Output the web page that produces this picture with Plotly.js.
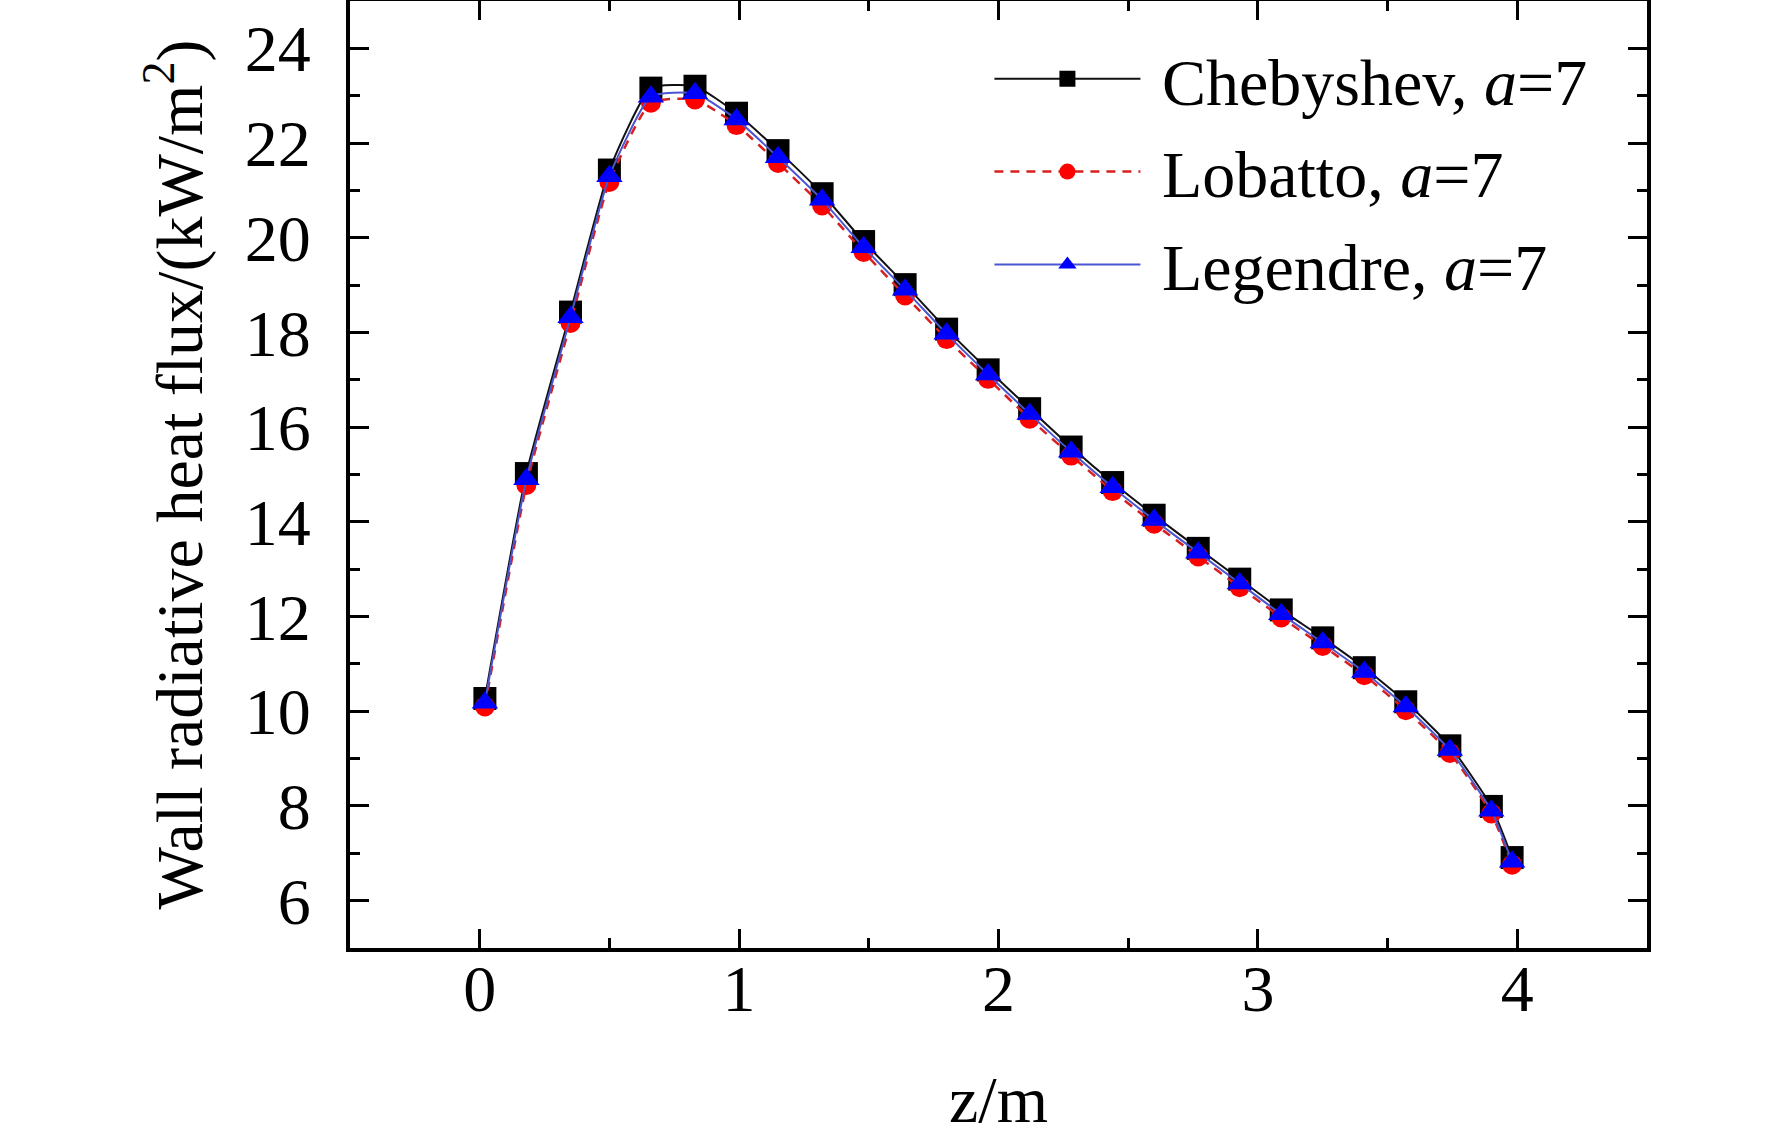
<!DOCTYPE html>
<html>
<head>
<meta charset="utf-8">
<script src="https://cdn.plot.ly/plotly-3.0.1.min.js"></script>
<style>
  html, body { margin: 0; padding: 0; background: #fff; }
  #chart { width: 1772px; height: 1136px; }
</style>
</head>
<body>
<div id="chart"></div>
<script>
// axial position z (m)
const z = [0.02, 0.18, 0.35, 0.50, 0.66, 0.83, 0.99, 1.15, 1.32, 1.48, 1.64, 1.80, 1.96,
           2.12, 2.28, 2.44, 2.60, 2.77, 2.93, 3.09, 3.25, 3.41, 3.57, 3.74, 3.90, 3.98]

// wall radiative heat flux (kW/m2)
const chebyshev = [10.27, 15.02, 18.43, 21.43, 23.16, 23.20, 22.63, 21.84, 20.93, 19.92, 19.01, 18.07, 17.21,
                   16.39, 15.58, 14.83, 14.14, 13.44, 12.79, 12.14, 11.55, 10.92, 10.20, 9.27, 7.99, 6.91]
const lobatto   = [10.10, 14.78, 18.20, 21.18, 22.85, 22.92, 22.38, 21.58, 20.68, 19.70, 18.78, 17.86, 17.02,
                   16.18, 15.40, 14.65, 13.96, 13.27, 12.62, 11.98, 11.38, 10.76, 10.02, 9.12, 7.84, 6.76]
const legendre  = [10.18, 14.90, 18.32, 21.30, 22.98, 23.05, 22.50, 21.70, 20.80, 19.80, 18.90, 17.97, 17.11,
                   16.28, 15.48, 14.73, 14.04, 13.35, 12.70, 12.05, 11.45, 10.83, 10.10, 9.18, 7.90, 6.82]

const seriesNames = ['Chebyshev, <i>a</i>=7', 'Lobatto, <i>a</i>=7', 'Legendre, <i>a</i>=7']

const FONT = '"Liberation Serif", "Times New Roman", serif'

const data = [
  {
    name: '&nbsp;' + seriesNames[0], legendgroup: 'g1',
    x: z, y: chebyshev,
    mode: 'lines+markers', type: 'scatter',
    line: { color: '#111111', width: 2, shape: 'spline', smoothing: 0.5 },
    marker: { symbol: 'square', size: 23, color: '#000000' }
  },
  {
    name: '&nbsp;' + seriesNames[1], legendgroup: 'g2',
    x: z, y: lobatto,
    mode: 'lines+markers', type: 'scatter',
    line: { color: '#d82020', width: 2.5, dash: '9px,7px', shape: 'spline', smoothing: 0.5 },
    marker: { symbol: 'circle', size: 20, color: '#ff0000' }
  },
  {
    name: '&nbsp;' + seriesNames[2], legendgroup: 'g3',
    x: z, y: legendre,
    mode: 'lines+markers', type: 'scatter',
    line: { color: '#4a55d0', width: 2, shape: 'spline', smoothing: 0.5 },
    marker: { symbol: 'triangle-up', size: 23, color: '#0000ff' }
  }
]

const axisCommon = {
  showline: true, linecolor: '#000', linewidth: 4,
  mirror: 'allticks', ticks: 'inside', ticklen: 19, tickwidth: 3, tickcolor: '#000',
  showgrid: false, zeroline: false, fixedrange: true,
  tickfont: { family: FONT, size: 66, color: '#000' }
}

const layout = {
  width: 1772, height: 1136,
  margin: { l: 350, r: 125, t: 1, b: 188 },
  paper_bgcolor: '#fff', plot_bgcolor: '#fff',
  font: { family: FONT, size: 66, color: '#000' },
  showlegend: true,
  legend: {
    x: 0.493, y: 0.97, xanchor: 'left', yanchor: 'top',
    bgcolor: 'rgba(0,0,0,0)', borderwidth: 0,
    font: { family: FONT, size: 66, color: '#000' },
    itemwidth: 146, traceorder: 'grouped', tracegroupgap: 4
  },
  xaxis: Object.assign({}, axisCommon, {
    range: [-0.5, 4.5], tick0: 0, dtick: 1,
    minor: { dtick: 0.5, ticks: 'inside', ticklen: 10, tickwidth: 3, tickcolor: '#000' },
    ticklabelstandoff: -20,
    title: { text: 'z/m', font: { family: FONT, size: 66 }, standoff: 70 }
  }),
  yaxis: Object.assign({}, axisCommon, {
    range: [5, 25], tick0: 0, dtick: 2,
    minor: { dtick: 1, ticks: 'inside', ticklen: 10, tickwidth: 3, tickcolor: '#000' },
    ticklabelstandoff: 22,
    title: { text: 'Wall radiative heat flux/(kW/m<sup>2</sup>)', font: { family: FONT, size: 66 }, standoff: 22 }
  })
}

const config = { responsive: false, displayModeBar: false, staticPlot: true }

Plotly.newPlot(document.getElementById('chart'), data, layout, config)
</script>
</body>
</html>
